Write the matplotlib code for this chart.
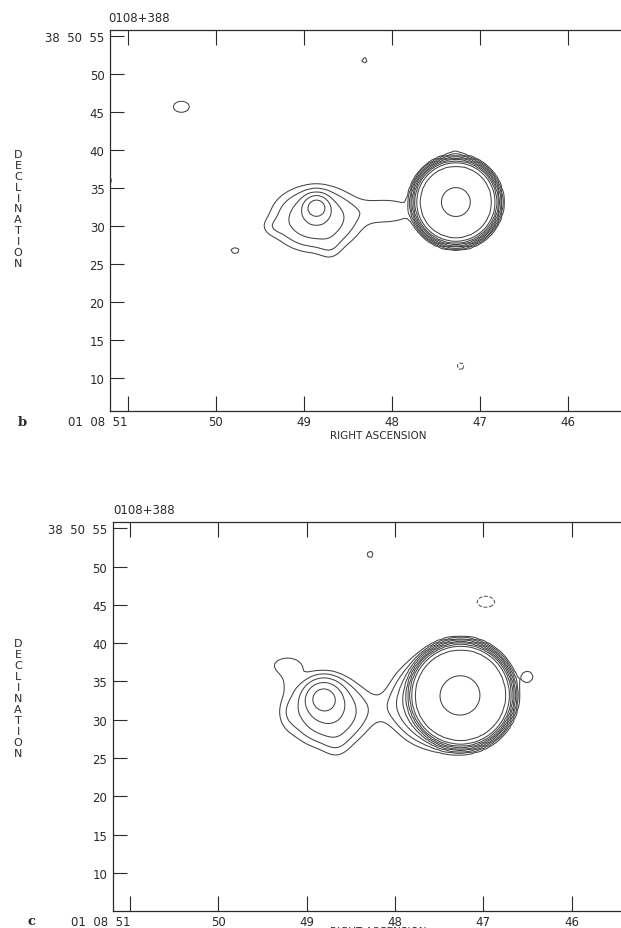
import numpy as np
import matplotlib.pyplot as plt

# contour levels of the maps (negative levels are drawn dashed)
levels_pos = [1, 2, 4, 8, 16, 32, 64, 128, 256, 512]
levels_neg = [-2, -1]

SEC_TO_ARCSEC = 11.6   # 1 s of RA at dec +38 50, in arcsec

ra_ticks = [51, 50, 49, 48, 47, 46]
ra_labels = ['01  08  51', '50', '49', '48', '47', '46']
dec_ticks = [10, 15, 20, 25, 30, 35, 40, 45, 50, 55]
dec_labels = ['10', '15', '20', '25', '30', '35', '40', '45', '50', '38  50  55']

# map b: gaussian components  (RA s, Dec ", peak, sigma RA ", sigma Dec ")
b_ra   = [48.856, 48.86, 49.34, 48.70, 48.05, 50.39, 48.31, 49.78, 51.24, 47.22, 47.28]
b_dec  = [32.5,   31.0,  29.9,  27.2,  32.0,  45.7,  51.8,  26.8,  36.0,  11.6,  39.6]
b_peak = [20.0,   8.0,   0.9,   0.9,   1.7,   1.4,   1.3,   1.25,  1.4,   -1.4,  0.9]
b_sra  = [0.95,   3.0,   1.1,   1.0,   3.0,   1.3,   0.5,   0.8,   0.8,   0.55,  0.8]
b_sdec = [0.9,    2.2,   0.8,   1.2,   1.3,   0.9,   0.5,   0.6,   0.8,   0.55,  0.6]
# map b: core  (RA, Dec, plateau, edge radius ", edge width ", peak, peak sigma ")
b_core = [47.273, 33.17, 300, 5.08, 0.214, 473, 1.5]

# map c: gaussian components
c_ra   = [48.811, 48.75, 49.22, 49.20, 49.20, 48.66, 48.12, 47.51, 46.50, 48.28, 46.97]
c_dec  = [32.9,   31.0,  37.1,  35.0,  31.0,  27.0,  31.5,  32.3,  35.6,  51.6,  45.4]
c_peak = [18.0,   9.0,   1.5,   0.8,   1.0,   1.0,   0.8,   30.0,  1.5,   1.3,   -1.5]
c_sra  = [1.4,    2.7,   1.8,   1.0,   1.0,   1.2,   2.5,   2.6,   0.8,   0.55,  1.3]
c_sdec = [1.3,    2.3,   1.0,   1.2,   1.6,   1.5,   1.6,   2.4,   0.8,   0.6,   0.8]
c_core = [47.255, 33.2, 300, 6.3, 0.23, 463, 2.0]

# map grid
ra_grid = np.arange(45.2, 51.5, 0.4 / SEC_TO_ARCSEC)
dec_grid = np.arange(4.5, 57.0, 0.4)
RA, DEC = np.meshgrid(ra_grid, dec_grid)


def make_map(ra0, dec0, peak, sra, sdec, core):
    cra, cdec, plateau, r1, width, cpeak, csig = core
    r = np.hypot((RA - cra) * SEC_TO_ARCSEC, DEC - cdec)
    # saturated core: flat top with a sharp edge, plus the central peak
    z = plateau / (1 + np.exp((r - r1) / width)) + cpeak * np.exp(-r ** 2 / (2 * csig ** 2))
    for x0, y0, a, sx, sy in zip(ra0, dec0, peak, sra, sdec):
        dx = (RA - x0) * SEC_TO_ARCSEC
        dy = DEC - y0
        z = z + a * np.exp(-dx ** 2 / (2 * sx ** 2) - dy ** 2 / (2 * sy ** 2))
    return z


W, H = 621, 929
fig = plt.figure(figsize=(W / 100, H / 100), dpi=100)
plt.rcParams['font.family'] = 'DejaVu Sans'
ink = '#2a2a2a'


def draw_panel(rect, xlim, ylim, z, letter, title_xy, letter_xy, decl_y, ra_label_y):
    left, top, bottom = rect
    ax = fig.add_axes([left / W, 1 - bottom / H, 1 - left / W, (bottom - top) / H])
    ax.contour(RA, DEC, z, levels=levels_pos, colors='#444444', linewidths=0.75)
    ax.contour(RA, DEC, z, levels=levels_neg, colors='#555555', linewidths=0.75,
               linestyles='--')
    ax.set_xlim(*xlim)
    ax.set_ylim(*ylim)
    ax.set_xticks(ra_ticks)
    ax.set_xticklabels(ra_labels)
    ax.set_yticks(dec_ticks)
    ax.set_yticklabels(dec_labels)
    ax.tick_params(axis='x', direction='in', length=11, width=0.8, top=True,
                   labelsize=8.5, pad=3, colors=ink)
    ax.tick_params(axis='y', direction='in', length=10, width=0.8,
                   labelsize=8.5, pad=4, colors=ink)
    ax.get_xticklabels()[0].set_horizontalalignment('right')
    ax.spines['right'].set_visible(False)
    for s in ['left', 'top', 'bottom']:
        ax.spines[s].set_color(ink)
        ax.spines[s].set_linewidth(0.9)

    fig.text(title_xy[0] / W, 1 - title_xy[1] / H, '0108+388', fontsize=8.5,
             color=ink, ha='left', va='center')
    fig.text(letter_xy[0] / W, 1 - letter_xy[1] / H, letter, fontsize=9.5,
             family='DejaVu Serif', weight='bold', color=ink, ha='center', va='center')
    fig.text(18 / W, 1 - decl_y / H, '\n'.join('DECLINATION'), fontsize=8,
             color=ink, ha='center', va='center', linespacing=1.12)
    fig.text(378 / W, 1 - ra_label_y / H, 'RIGHT ASCENSION', fontsize=7.5,
             color=ink, ha='center', va='center')
    return ax


z_b = make_map(b_ra, b_dec, b_peak, b_sra, b_sdec, b_core)
z_c = make_map(c_ra, c_dec, c_peak, c_sra, c_sdec, c_core)

draw_panel((110, 31, 411.7), (51.2, 45.398), (5.73, 55.8), z_b, 'b',
           (108, 18), (22, 423), 209.5, 436)
draw_panel((112.7, 522.7, 911.6), (51.196, 45.44), (5.07, 55.86), z_c, 'c',
           (113, 510), (31, 922), 699, 932)

fig.savefig('out.png', dpi=100)
